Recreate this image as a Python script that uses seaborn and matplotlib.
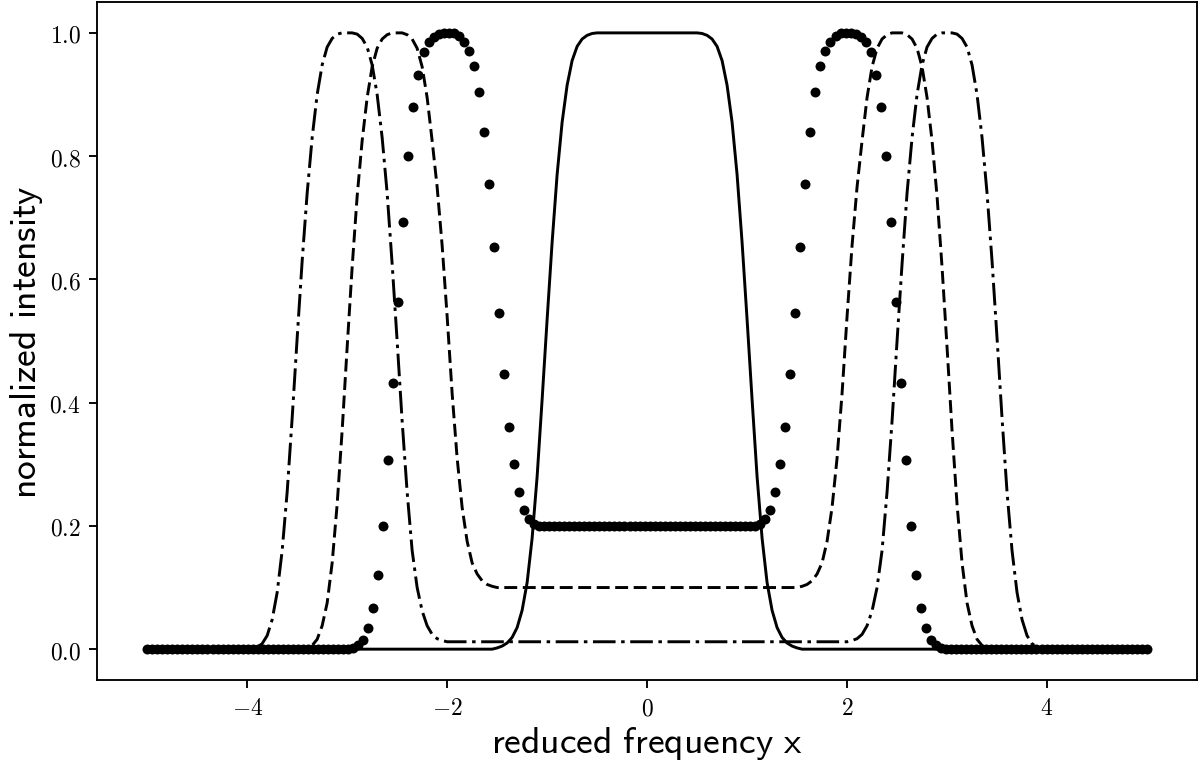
import numpy as np
import pandas as pd
import seaborn as sns
import matplotlib
matplotlib.use("Agg")
import matplotlib.pyplot as plt
from matplotlib.ticker import FuncFormatter

# --- profiles (normalized intensity vs reduced frequency) ---

# dotted profile, evenly sampled from -5 to 5 (200 samples)
dot_x = np.linspace(-5, 5, 200)
dot_y = ([0.0] * 41
         + [0.002, 0.006, 0.015, 0.034, 0.067, 0.121, 0.2, 0.307, 0.432, 0.564,
            0.693, 0.801, 0.879, 0.932, 0.969, 0.985, 0.993, 0.998, 1.0, 1.0,
            0.999, 0.995, 0.986, 0.971, 0.947, 0.904, 0.839, 0.755, 0.652, 0.545,
            0.446, 0.361, 0.30, 0.255, 0.226, 0.211, 0.203]
         + [0.2] * 44
         + [0.203, 0.211, 0.226, 0.255, 0.30, 0.361, 0.446, 0.545, 0.652, 0.755,
            0.839, 0.904, 0.947, 0.971, 0.986, 0.995, 0.999, 1.0, 1.0, 0.998,
            0.993, 0.985, 0.969, 0.932, 0.879, 0.801, 0.693, 0.564, 0.432, 0.307,
            0.2, 0.121, 0.067, 0.034, 0.015, 0.006, 0.002]
         + [0.0] * 41)

# solid profile (central plateau)
solid_x = ([-5.0] + list(np.round(np.arange(-1.55, -0.499, 0.05), 2))
           + list(np.round(np.arange(0.5, 1.551, 0.05), 2)) + [5.0])
solid_y = [0.0,
           0.0, 0.002, 0.005, 0.01, 0.019, 0.035, 0.063, 0.108, 0.18, 0.28, 0.405,
           0.535, 0.66, 0.77, 0.855, 0.915, 0.955, 0.978, 0.99, 0.996, 0.999, 1.0,
           1.0, 0.999, 0.996, 0.99, 0.978, 0.955, 0.915, 0.855, 0.77, 0.66, 0.535,
           0.405, 0.28, 0.18, 0.108, 0.063, 0.035, 0.019, 0.01, 0.005, 0.002, 0.0,
           0.0]

# dashed profile (peaks at +-2.5, floor 0.1)
dash_x = ([-5.0] + list(np.round(np.arange(-3.45, -1.499, 0.05), 2))
          + list(np.round(np.arange(1.5, 3.451, 0.05), 2)) + [5.0])
dash_y = [0.0,
          0.0, 0.002, 0.006, 0.016, 0.038, 0.075, 0.14, 0.235, 0.355, 0.49,
          0.62, 0.735, 0.825, 0.895, 0.945, 0.975, 0.99, 0.997, 1.0, 1.0,
          1.0, 0.997, 0.99, 0.975, 0.945, 0.895, 0.825, 0.75, 0.655, 0.54,
          0.415, 0.31, 0.23, 0.175, 0.14, 0.122, 0.111, 0.105, 0.102, 0.1,
          0.1, 0.102, 0.105, 0.111, 0.122, 0.14, 0.175, 0.23, 0.31, 0.415,
          0.54, 0.655, 0.75, 0.825, 0.895, 0.945, 0.975, 0.99, 0.997, 1.0,
          1.0, 1.0, 0.997, 0.99, 0.975, 0.945, 0.895, 0.825, 0.735, 0.62,
          0.49, 0.355, 0.235, 0.14, 0.075, 0.038, 0.016, 0.006, 0.002, 0.0,
          0.0]

# dash-dot profile (peaks at +-3, floor ~0.012)
dashdot_x = ([-5.0] + list(np.round(np.arange(-3.95, -1.999, 0.05), 2))
             + list(np.round(np.arange(2.0, 3.951, 0.05), 2)) + [5.0])
dashdot_y = [0.0,
             0.0, 0.003, 0.009, 0.022, 0.048, 0.092, 0.16, 0.255, 0.375, 0.505,
             0.63, 0.74, 0.83, 0.9, 0.948, 0.977, 0.991, 0.998, 1.0, 1.0,
             1.0, 0.998, 0.991, 0.977, 0.948, 0.9, 0.83, 0.74, 0.625, 0.5,
             0.37, 0.255, 0.16, 0.1, 0.062, 0.038, 0.024, 0.017, 0.014, 0.012,
             0.012, 0.014, 0.017, 0.024, 0.038, 0.062, 0.1, 0.16, 0.255, 0.37,
             0.5, 0.625, 0.74, 0.83, 0.9, 0.948, 0.977, 0.991, 0.998, 1.0,
             1.0, 1.0, 0.998, 0.991, 0.977, 0.948, 0.9, 0.83, 0.74, 0.63,
             0.505, 0.375, 0.255, 0.16, 0.092, 0.048, 0.022, 0.009, 0.003, 0.0,
             0.0]

x_ticks = [-4, -2, 0, 2, 4]
y_ticks = [0.0, 0.2, 0.4, 0.6, 0.8, 1.0]

plt.rcParams["mathtext.fontset"] = "cm"
plt.rcParams["axes.unicode_minus"] = True

fig, ax = plt.subplots(figsize=(1200 / 169, 766 / 169), dpi=169)
fig.subplots_adjust(left=0.081, right=0.9975, bottom=0.111, top=0.996)

lw = 1.25
sns.lineplot(x=solid_x, y=solid_y, color="k", linewidth=lw,
             estimator=None, sort=False, ax=ax)
sns.lineplot(x=dash_x, y=dash_y, color="k", linewidth=lw,
             linestyle=(0, (4.4, 1.9)), estimator=None, sort=False, ax=ax)
sns.lineplot(x=dashdot_x, y=dashdot_y, color="k", linewidth=lw,
             linestyle=(0, (7.7, 1.9, 1.2, 1.9)), estimator=None, sort=False, ax=ax)
sns.scatterplot(x=dot_x, y=dot_y, color="k", s=18, linewidth=0, ax=ax)

ax.set_xlim(-5.5, 5.5)
ax.set_ylim(-0.05, 1.05)
ax.set_xticks(x_ticks)
ax.set_yticks(y_ticks)
ax.xaxis.set_major_formatter(FuncFormatter(lambda v, p: r"$%g$" % v))
ax.yaxis.set_major_formatter(FuncFormatter(lambda v, p: r"$%.1f$" % v))
ax.tick_params(labelsize=10)

ax.set_xlabel(r"$\mathsf{reduced\ frequency\ x}$", fontsize=16, labelpad=2)
ax.set_ylabel(r"$\mathsf{normalized\ intensity}$", fontsize=16, labelpad=2)

plt.savefig("out.png", dpi=169)
